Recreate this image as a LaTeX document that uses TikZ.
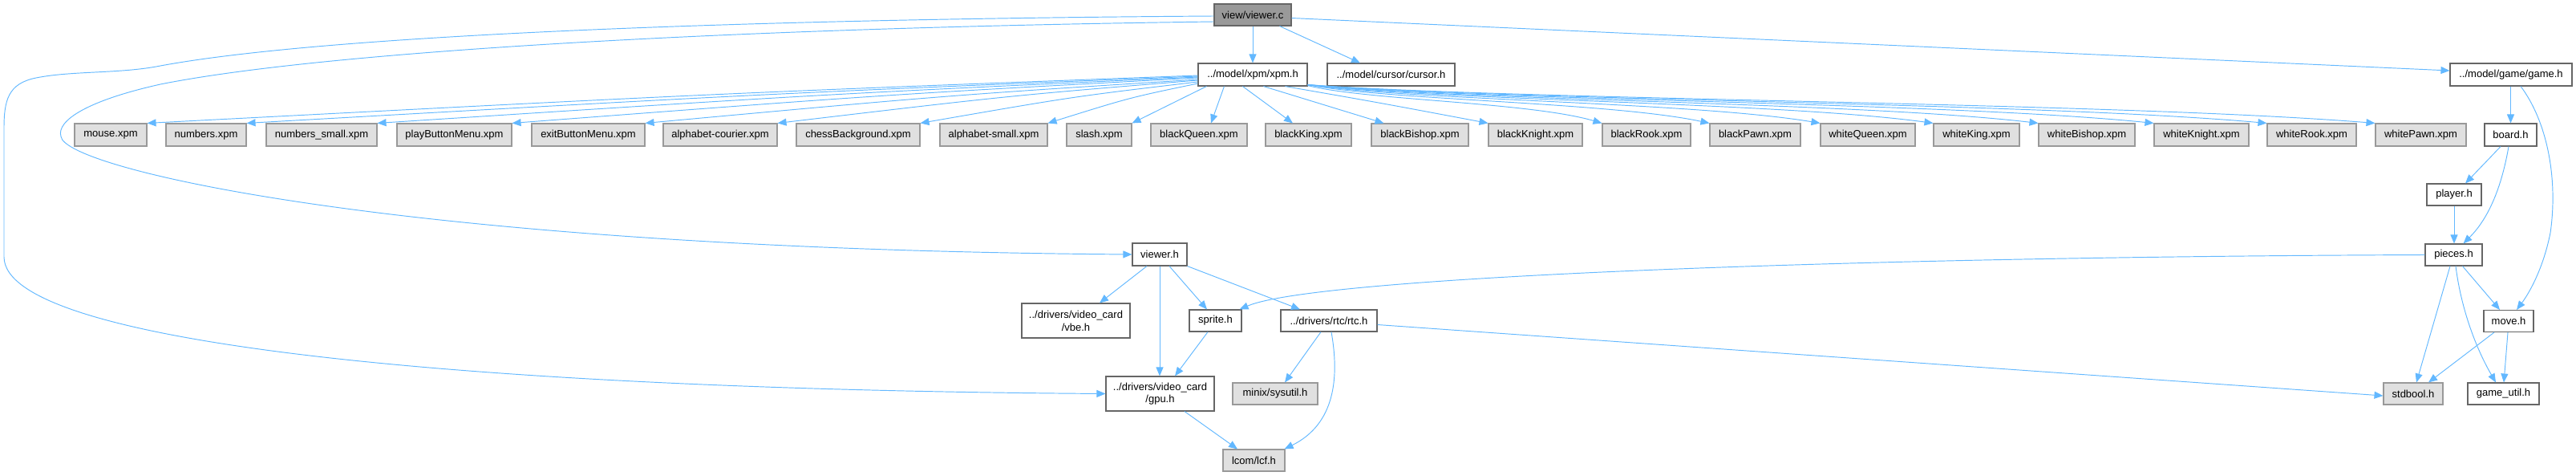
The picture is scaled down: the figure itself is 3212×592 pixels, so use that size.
\documentclass[tikz,border=0pt]{standalone}
\usepackage{fontspec}
\setmainfont{Liberation Sans}
\usetikzlibrary{arrows.meta}
\definecolor{edgecol}{HTML}{63B8FF}
\definecolor{bordark}{HTML}{666666}
\definecolor{borlight}{HTML}{999999}
\definecolor{grayfill}{HTML}{E0E0E0}
\definecolor{rootfill}{HTML}{999999}
\begin{document}
\begin{tikzpicture}[x=1pt,y=-1pt,
  nb/.style={draw=bordark, fill=white, line width=1.1pt, inner sep=0pt, minimum height=27pt, font=\fontsize{13}{15.7}\selectfont, align=center},
  gb/.style={nb, draw=borlight, fill=grayfill},
  rb/.style={nb, fill=rootfill},
  dep/.style={draw=edgecol, line width=0.95pt, -{Triangle[length=11pt,width=9pt]}}]
\useasboundingbox (0,0) rectangle (3212,592);

% row 0/1
\node[rb, minimum width=96pt] (vc) at (1562,18.5) {view/viewer.c};
\node[nb, minimum width=136pt, minimum height=28pt] (xpm) at (1562,93) {../model/xpm/xpm.h};
\node[nb, minimum width=159pt, minimum height=28pt] (cursor) at (1734.5,93) {../model/cursor/cursor.h};
\node[nb, minimum width=152pt, minimum height=28pt] (game) at (3131,93) {../model/game/game.h};

% row 2
\node[gb, minimum width=90pt, minimum height=28pt] (mouse) at (138,168) {mouse.xpm};
\node[gb, minimum width=100pt, minimum height=28pt] (numbers) at (257,168) {numbers.xpm};
\node[gb, minimum width=138pt, minimum height=28pt] (numsmall) at (401,168) {numbers\_small.xpm};
\node[gb, minimum width=143pt, minimum height=28pt] (play) at (566.5,168) {playButtonMenu.xpm};
\node[gb, minimum width=141pt, minimum height=28pt] (exitb) at (733.5,168) {exitButtonMenu.xpm};
\node[gb, minimum width=142pt, minimum height=28pt] (alphc) at (898,168) {alphabet-courier.xpm};
\node[gb, minimum width=154pt, minimum height=28pt] (chessbg) at (1070,168) {chessBackground.xpm};
\node[gb, minimum width=134pt, minimum height=28pt] (alphs) at (1239,168) {alphabet-small.xpm};
\node[gb, minimum width=81pt, minimum height=28pt] (slash) at (1370.5,168) {slash.xpm};
\node[gb, minimum width=120pt, minimum height=28pt] (bq) at (1495,168) {blackQueen.xpm};
\node[gb, minimum width=107pt, minimum height=28pt] (bk) at (1631.5,168) {blackKing.xpm};
\node[gb, minimum width=121pt, minimum height=28pt] (bb) at (1770.5,168) {blackBishop.xpm};
\node[gb, minimum width=117pt, minimum height=28pt] (bn) at (1914.5,168) {blackKnight.xpm};
\node[gb, minimum width=110pt, minimum height=28pt] (br) at (2053,168) {blackRook.xpm};
\node[gb, minimum width=113pt, minimum height=28pt] (bp) at (2188.5,168) {blackPawn.xpm};
\node[gb, minimum width=118pt, minimum height=28pt] (wq) at (2329,168) {whiteQueen.xpm};
\node[gb, minimum width=107pt, minimum height=28pt] (wk) at (2464.5,168) {whiteKing.xpm};
\node[gb, minimum width=120pt, minimum height=28pt] (wb) at (2602,168) {whiteBishop.xpm};
\node[gb, minimum width=118pt, minimum height=28pt] (wn) at (2745,168) {whiteKnight.xpm};
\node[gb, minimum width=111pt, minimum height=28pt] (wr) at (2882.5,168) {whiteRook.xpm};
\node[gb, minimum width=113pt, minimum height=28pt] (wp) at (3018.5,168) {whitePawn.xpm};
\node[nb, minimum width=65pt, minimum height=28pt] (board) at (3130.5,168) {board.h};

% lower rows
\node[nb, minimum width=68pt] (player) at (3060,242.5) {player.h};
\node[nb, minimum width=68pt, minimum height=28pt] (vh) at (1446,317) {viewer.h};
\node[nb, minimum width=71pt] (pieces) at (3059.5,317.5) {pieces.h};
\node[nb, minimum width=135pt, minimum height=43pt] (vbe) at (1341.5,399.5) {../drivers/video\_card\\/vbe.h};
\node[nb, minimum width=65pt] (sprite) at (1515.5,399.5) {sprite.h};
\node[nb, minimum width=120pt] (rtc) at (1657,399.5) {../drivers/rtc/rtc.h};
\node[nb, minimum width=62pt] (move) at (3128,400) {move.h};
\node[nb, minimum width=135pt, minimum height=43pt] (gpu) at (1446.5,490.5) {../drivers/video\_card\\/gpu.h};
\node[gb, minimum width=106pt] (sysutil) at (1590,490.5) {minix/sysutil.h};
\node[gb, minimum width=74pt] (stdbool) at (3009,490.5) {stdbool.h};
\node[nb, minimum width=89pt] (gameutil) at (3121.5,490.5) {game\_util.h};
\node[gb, minimum width=77pt] (lcf) at (1563.5,573.5) {lcom/lcf.h};

% edges from viewer.c
\draw[dep] (vc.south) -- (xpm.north);
\draw[dep] ([xshift=-15pt]vc.south east) -- ([xshift=-38.5pt]cursor.north);
\draw[dep] ([yshift=-4pt]vc.east) -- ([yshift=5pt]game.west);
\draw[dep] ([yshift=-1.5pt]vc.west) .. controls (900,24) and (400,45) .. (200,82)
  .. controls (150,92) and (90,88) .. (45,97)
  .. controls (10,104) and (5,125) .. (5,160) -- (5,320)
  .. controls (5,430) and (600,485) .. (gpu.west);
\draw[dep] ([yshift=-8.5pt]vc.west) .. controls (900,35) and (400,65) .. (200,105)
  .. controls (110,125) and (70,150) .. (76,170)
  .. controls (80,210) and (500,310) .. (vh.west);

% edges from xpm.h (left)
\draw[dep] ([yshift=-1pt]xpm.west) .. controls (904,116) .. (mouse.north east);
\draw[dep] ([yshift=-2pt]xpm.west) .. controls (960,116.5) .. (numbers.north east);
\draw[dep] ([yshift=-3pt]xpm.west) .. controls (1033,117) .. (numsmall.north east);
\draw[dep] ([yshift=-4pt]xpm.west) .. controls (1109,117.6) .. (play.north east);
\draw[dep] ([yshift=-6pt]xpm.west) .. controls (1183.5,118.7) .. (exitb.north east);
\draw[dep] ([yshift=-7pt]xpm.west) .. controls (1258,119.3) .. (alphc.north east);
\draw[dep] ([yshift=-9pt]xpm.west) .. controls (1338,120.4) .. (chessbg.north east);
\draw[dep] ([yshift=-11pt]xpm.west) .. controls (1409,121.5) .. (alphs.north east);
\draw[dep] ([xshift=11pt]xpm.south west) -- (slash.north east);
\draw[dep] ([xshift=33pt]xpm.south west) -- ([xshift=15pt]bq.north);
\draw[dep] ([xshift=56pt]xpm.south west) -- ([xshift=-19.5pt]bk.north);
\draw[dep] ([xshift=82pt]xpm.south west) -- ([xshift=16pt]bb.north west);
\draw[dep] ([xshift=109pt]xpm.south west) .. controls (1720,128) .. (bn.north west);
% edges from xpm.h (right)
\draw[dep] ([yshift=1pt]xpm.south east) .. controls (1704,125) and (1906,127) .. (br.north west);
\draw[dep] ([yshift=2pt]xpm.south east) .. controls (1730,125) and (2006,127) .. (bp.north west);
\draw[dep] ([yshift=2pt]xpm.south east) .. controls (1758,125) and (2110,127) .. (wq.north west);
\draw[dep] ([yshift=2pt]xpm.south east) .. controls (1786,125) and (2216,127) .. (wk.north west);
\draw[dep] ([yshift=2pt]xpm.south east) .. controls (1812,125) and (2314,127) .. (wb.north west);
\draw[dep] ([yshift=2pt]xpm.south east) .. controls (1841,125) and (2422,127) .. (wn.north west);
\draw[dep] ([yshift=2pt]xpm.south east) .. controls (1869,125) and (2528,127) .. (wr.north west);
\draw[dep] ([yshift=2pt]xpm.south east) .. controls (1896,125) and (2629,127) .. (wp.north west);

% game side
\draw[dep] (board.north |- game.south) -- (board.north);
\draw[dep] ([xshift=12pt]game.south) .. controls (3175,150) and (3190,220) .. (3180,290)
  .. controls (3170,340) and (3150,370) .. ([xshift=10pt]move.north);
\draw[dep] ([xshift=-12.5pt]board.south) -- ([xshift=14pt]player.north);
\draw[dep] ([xshift=-2.5pt]board.south) .. controls (3118,240) and (3100,275) .. ([xshift=12pt]pieces.north);
\draw[dep] (player.south) -- (player.south |- pieces.north);
\draw[dep] (pieces.west) .. controls (2300,320) and (1640,345) .. ([xshift=-3pt]sprite.north east);
\draw[dep] ([xshift=11pt]pieces.south) -- ([xshift=-11pt]move.north);
\draw[dep] ([xshift=-4.5pt]pieces.south) -- ([xshift=4pt]stdbool.north);
\draw[dep] ([xshift=2.5pt]pieces.south) .. controls (3068,380) and (3085,430) .. ([xshift=-9.5pt]gameutil.north);
\draw[dep] ([xshift=-18pt]move.south) -- ([xshift=19pt]stdbool.north);
\draw[dep] ([xshift=-1pt]move.south) -- ([xshift=0.5pt]gameutil.north);

% viewer.h side
\draw[dep] ([xshift=-16pt]vh.south) -- ([xshift=29.5pt]vbe.north);
\draw[dep] (vh.south) -- (vh.south |- gpu.north);
\draw[dep] ([xshift=12pt]vh.south) -- ([xshift=-10.5pt]sprite.north);
\draw[dep] (vh.south east) -- ([xshift=-36pt]rtc.north);
\draw[dep] ([xshift=-9.5pt]sprite.south) -- ([xshift=18.5pt]gpu.north);
\draw[dep] ([xshift=-10pt]rtc.south) -- ([xshift=12pt]sysutil.north);
\draw[dep] ([xshift=3pt]rtc.south) .. controls (1670,470) and (1665,528) .. ([xshift=-1pt]lcf.north east);
\draw[dep] ([yshift=-5pt]rtc.east) -- ([yshift=-2.5pt]stdbool.west);
\draw[dep] ([xshift=30.5pt]gpu.south) -- ([xshift=-20.5pt]lcf.north);
\end{tikzpicture}
\end{document}
